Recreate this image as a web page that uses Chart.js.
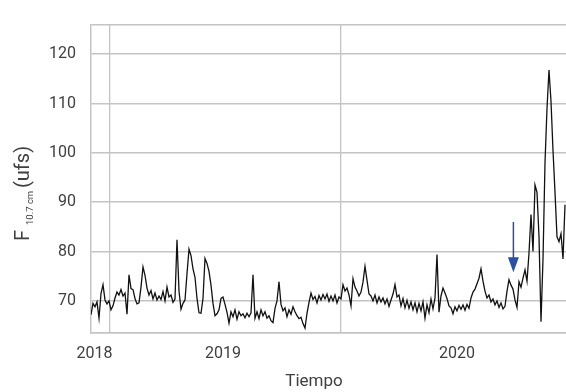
<!DOCTYPE html>
<html>
<head>
<meta charset="utf-8">
<script src="https://cdn.jsdelivr.net/npm/chart.js@4"></script>
<style>
  body { margin: 0; background: #fff; }
  #wrap { width: 566px; height: 392px; }
</style>
</head>
<body>
<div id="wrap"><canvas id="fluxChart"></canvas></div>
<script>
// Flujo solar F10.7 cm (ufs), una muestra cada ~2 px
const fluxValues = [
  67.2, 69.5, 68.8, 69.8, 66.5, 71.5, 73.3, 70.2, 69.4, 70.0,
  68.2, 69.0, 70.6, 71.8, 71.2, 72.3, 71.0, 71.6, 67.3, 75.3,
  72.5, 72.3, 70.5, 69.4, 69.6, 72.8, 76.9, 75.2, 72.6, 71.2,
  72.1, 70.4, 71.6, 70.2, 71.0, 70.3, 71.9, 70.0, 72.8, 70.8,
  71.2, 69.7, 70.4, 82.4, 72.0, 68.3, 69.5, 70.2, 75.5, 80.5,
  79.2, 76.5, 74.8, 70.5, 67.6, 67.5, 70.5, 78.6, 77.6, 76.0,
  73.2, 69.5, 67.0, 67.4, 68.2, 70.5, 70.8, 69.3, 67.7, 65.5,
  67.8, 66.8, 68.2, 66.3, 67.8, 67.0, 67.4, 66.6, 67.5, 66.8,
  67.6, 75.3, 66.5, 67.8, 66.4, 68.2, 67.0, 67.8, 66.5, 67.0,
  66.0, 65.6, 68.5, 70.0, 73.9, 69.3, 68.0, 68.6, 66.8, 68.2,
  67.3, 68.8, 67.8, 67.0, 66.4, 66.7, 65.4, 64.5, 67.5, 69.7,
  71.6, 70.3, 70.9, 69.6, 71.1, 70.2, 71.3, 70.4, 71.4, 69.9,
  71.0, 70.0, 71.2, 69.6, 70.8, 70.4, 73.3, 72.0, 72.6, 71.2,
  69.0, 74.5, 72.8, 72.0, 71.0, 71.8, 73.8, 77.0, 74.2, 71.4,
  71.0, 70.0, 71.2, 69.6, 70.8, 69.8, 70.6, 69.4, 70.4, 68.9,
  70.2, 71.4, 73.3, 70.8, 71.2, 69.0, 70.5, 68.6, 70.1, 68.5,
  69.8, 68.2, 69.6, 67.8, 69.5, 68.0, 69.8, 66.5, 69.2, 67.6,
  70.4, 68.4, 70.6, 79.4, 67.7, 71.0, 72.6, 71.6, 70.5, 69.0,
  68.6, 67.4, 68.8, 68.0, 69.1, 68.3, 69.2, 68.1, 69.3, 68.5,
  70.6, 71.8, 72.4, 73.5, 74.6, 76.5, 74.0, 72.0, 70.6, 71.2,
  69.8, 70.4, 69.2, 70.0, 68.7, 69.6, 68.4, 68.9, 72.0, 74.3,
  73.2, 72.4, 70.2, 68.7, 73.9, 72.8, 74.6, 76.3, 74.0, 79.7,
  87.5, 80.0, 93.5, 92.0, 83.0, 65.8, 78.5, 98.0, 109.0, 116.8,
  110.4, 100.5, 92.0, 83.0, 82.0, 83.6, 78.5, 89.5
];

// Etiquetas del eje X (años) y su posición en índice de muestra
const xTickLabels = ['2018', '2019', '2020'];
const xTickPositions = [1.75, 66, 183];
// Líneas verticales de la cuadrícula
const xGridPositions = [9.5, 125];
const xRange = [0, 237.5];

const yTickValues = [70, 80, 90, 100, 110, 120];
const yRange = [63.5, 126];

// Flecha azul: x, y inicio, y punta
const arrowMark = [211.2, 86, 75.8];

const gridGray = '#c4c4c4';
const textGray = '#404040';
const tickFont = { family: 'Roboto', size: 16 };

const titlesPlugin = {
    id: 'titles',
    afterDraw(chart) {
        const ctx = chart.ctx;
        const xs = chart.scales.x, ys = chart.scales.y;

        // flecha
        const ax = xs.getPixelForValue(arrowMark[0]);
        const yTop = ys.getPixelForValue(arrowMark[1]);
        const yTip = ys.getPixelForValue(arrowMark[2]);
        const yHead = yTip - 15;
        ctx.save();
        ctx.strokeStyle = '#2d4f9f';
        ctx.fillStyle = '#2d4f9f';
        ctx.lineWidth = 1.5;
        ctx.beginPath();
        ctx.moveTo(ax, yTop);
        ctx.lineTo(ax, yHead + 1);
        ctx.stroke();
        ctx.beginPath();
        ctx.moveTo(ax - 5.5, yHead);
        ctx.lineTo(ax + 5.5, yHead);
        ctx.lineTo(ax, yTip);
        ctx.closePath();
        ctx.fill();
        ctx.restore();

        // título eje X
        ctx.save();
        ctx.fillStyle = textGray;
        ctx.font = '17px Roboto';
        ctx.textAlign = 'center';
        ctx.textBaseline = 'alphabetic';
        ctx.fillText('Tiempo', 314, 386);
        ctx.restore();

        // título eje Y con subíndice
        ctx.save();
        ctx.translate(29, 241);
        ctx.rotate(-Math.PI / 2);
        ctx.fillStyle = textGray;
        ctx.textBaseline = 'alphabetic';
        ctx.textAlign = 'left';
        ctx.font = '20px Roboto';
        ctx.fillText('F', 0, 0);
        ctx.font = '9.5px Roboto';
        ctx.fillText('10.7 cm', 16, 4);
        ctx.font = '20px Roboto';
        ctx.fillText('(ufs)', 53, 0);
        ctx.restore();
    }
};

new Chart(document.getElementById('fluxChart'), {
    type: 'line',
    data: {
        datasets: [{
            label: 'F10.7',
            data: fluxValues.map((v, i) => ({ x: i, y: v })),
            borderColor: '#111111',
            borderWidth: 1.3,
            pointRadius: 0,
            tension: 0,
            fill: false
        }]
    },
    options: {
        responsive: true,
        maintainAspectRatio: false,
        animation: false,
        layout: { padding: { top: 14, right: 0, bottom: 0, left: 0 } },
        plugins: {
            legend: { display: false },
            tooltip: { enabled: false }
        },
        scales: {
            x: {
                type: 'linear',
                min: xRange[0],
                max: xRange[1],
                afterBuildTicks: scale => {
                    scale.ticks = xTickPositions.concat(xGridPositions)
                        .sort((a, b) => a - b)
                        .map(v => ({ value: v }));
                },
                afterFit: scale => { scale.height = 59; },
                ticks: {
                    autoSkip: false,
                    maxRotation: 0,
                    padding: 11,
                    color: textGray,
                    font: tickFont,
                    callback: value => {
                        const k = xTickPositions.indexOf(value);
                        return k >= 0 ? xTickLabels[k] : '';
                    }
                },
                grid: {
                    drawTicks: false,
                    lineWidth: 1.3,
                    color: c => (c.tick && xGridPositions.includes(c.tick.value)) ? gridGray : 'rgba(0,0,0,0)'
                },
                border: { display: true, color: gridGray, width: 1.5 }
            },
            y: {
                min: yRange[0],
                max: yRange[1],
                afterBuildTicks: scale => {
                    scale.ticks = [yRange[0]].concat(yTickValues, [yRange[1]])
                        .map(v => ({ value: v }));
                },
                afterFit: scale => { scale.width = 91; },
                ticks: {
                    padding: 15,
                    color: textGray,
                    font: tickFont,
                    callback: value => yTickValues.includes(value) ? String(value) : ''
                },
                grid: {
                    drawTicks: false,
                    lineWidth: 1.5,
                    color: gridGray
                },
                border: { display: true, color: gridGray, width: 1.5 }
            }
        }
    },
    plugins: [titlesPlugin]
});
</script>
</body>
</html>
